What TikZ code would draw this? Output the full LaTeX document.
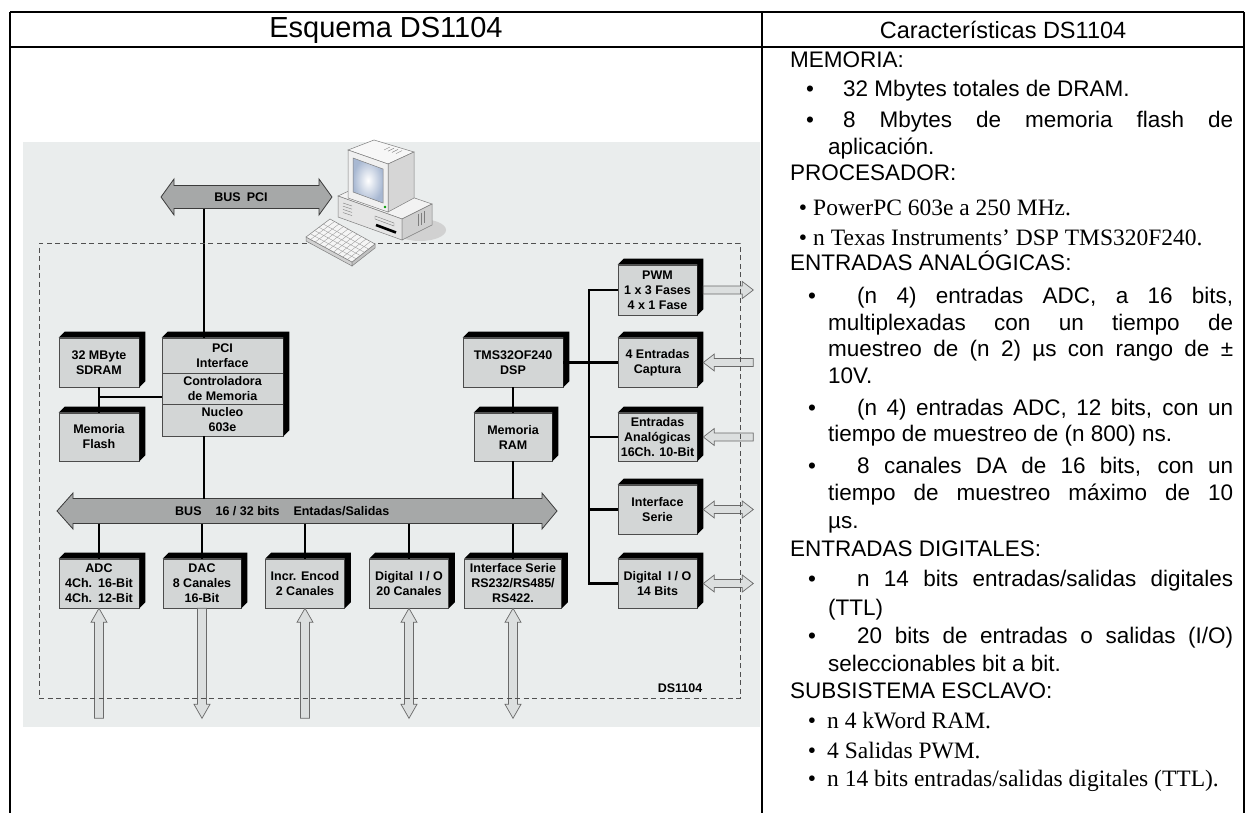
\documentclass[tikz,border=0pt]{standalone}
\usepackage{fontspec}
\setmainfont{Liberation Sans}
\newfontfamily\timesface{Liberation Serif}
\usetikzlibrary{calc}

\definecolor{panelgray}{HTML}{EAEDED}
\definecolor{facegray}{HTML}{D3D6D6}
\definecolor{busgray}{HTML}{A6A8A8}
\definecolor{busedge}{HTML}{3C3C3C}
\definecolor{iogray}{HTML}{DCDFDF}
\definecolor{ioedge}{HTML}{6A6A6A}
\definecolor{dashgray}{HTML}{505050}
\definecolor{pcline}{HTML}{7E7E7E}

\tikzset{
  blk/.style={draw=black!70, line width=0.6pt, fill=facegray, inner sep=0pt,
    align=center, font=\bfseries\fontsize{12.5}{15}\selectfont,
    minimum width=80pt, minimum height=49pt},
  wire/.style={line width=2.7pt, line join=miter},
  busarrow/.style={fill=busgray, draw=busedge, line width=0.8pt},
  iostyle/.style={fill=iogray, draw=ioedge, line width=0.7pt},
  lbl/.style={inner sep=0pt, font=\bfseries\fontsize{12.5}{15}\selectfont},
  rtext/.style={anchor=base west, inner sep=0pt, font=\fontsize{22.5}{27}\selectfont},
  stext/.style={anchor=base west, inner sep=0pt, font=\timesface\fontsize{23.5}{27}\selectfont},
  bul/.style={anchor=base, inner sep=0pt, font=\fontsize{22.5}{27}\selectfont},
  sbul/.style={anchor=base, inner sep=0pt, font=\timesface\fontsize{23.5}{27}\selectfont},
  pcface/.style={draw=pcline, line width=0.5pt},
  keyl/.style={draw=pcline!80, line width=0.35pt},
  % hollow I/O arrows
  ioR/.pic={\path[iostyle] (0,-4) -- (39,-4) -- (39,-8.5) -- (50,0) -- (39,8.5) -- (39,4) -- (0,4) -- cycle;},
  ioL/.pic={\path[iostyle] (0,0) -- (11,-8.5) -- (11,-4) -- (50,-4) -- (50,4) -- (11,4) -- (11,8.5) -- cycle;},
  ioLR/.pic={\path[iostyle] (0,0) -- (11,-8.5) -- (11,-4) -- (39,-4) -- (39,-8.5) -- (50,0) -- (39,8.5) -- (39,4) -- (11,4) -- (11,8.5) -- cycle;},
  ioUp/.pic={\path[iostyle] (0,0) -- (8,14) -- (4.5,14) -- (4.5,110) -- (-4.5,110) -- (-4.5,14) -- (-8,14) -- cycle;},
  ioDown/.pic={\path[iostyle] (0,110) -- (8,96) -- (4.5,96) -- (4.5,0) -- (-4.5,0) -- (-4.5,96) -- (-8,96) -- cycle;},
  ioUD/.pic={\path[iostyle] (0,0) -- (8,14) -- (4.5,14) -- (4.5,96) -- (8,96) -- (0,110) -- (-8,96) -- (-4.5,96) -- (-4.5,14) -- (-8,14) -- cycle;},
}

% black 3D depth on the top and right side of a block
\newcommand\blockdepth[2]{%
  \fill[black] (#1.north west) -- ++(6,-6) -- ($(#1.north east)+(6,-6)$)
    -- ($(#2.south east)+(6,-6)$) -- (#2.south east) -- (#1.north east) -- cycle;}

\begin{document}
\begin{tikzpicture}[x=1pt,y=-1pt]
\useasboundingbox (0,0) rectangle (1249,813);
\fill[white] (0,0) rectangle (1249,813);

% ---------- figure background ----------
\fill[panelgray] (23,142) rectangle (760,727);

% ---------- buses ----------
\path[busarrow] (161,197) -- (174,179) -- (174,185.5) -- (319,185.5) -- (319,179)
  -- (332,197) -- (319,215) -- (319,208.5) -- (174,208.5) -- (174,215) -- cycle;
\node[lbl] (pcibuslabel) at (241,197) {BUS\hspace{6pt}PCI};

\path[busarrow] (57,511) -- (73,493) -- (73,498.5) -- (542,498.5) -- (542,493)
  -- (557,511) -- (542,529) -- (542,523.5) -- (73,523.5) -- (73,529) -- cycle;
\node[lbl, anchor=west] (mainbuslabel) at (175,511) {BUS\hspace{14pt}16 / 32 bits\hspace{14pt}Entadas/Salidas};

\coordinate (pcitap) at (204,208.5);
\coordinate (bustop) at (0,498.5);
\coordinate (busbot) at (0,523.5);
\coordinate (trunk) at (589,0);
\coordinate (memjoin) at (99,397);

% ---------- blocks ----------
\node[blk] (sdram) at (99,362.5) {32 MByte\\SDRAM};
\node[blk, minimum height=48pt] (flash) at (99,437) {Memoria\\Flash};
\node[blk, minimum width=121pt, minimum height=35pt] (pcia) at (222.5,355.5) {PCI\\Interface};
\node[blk, minimum width=121pt, minimum height=31pt] (pcib) at (222.5,388.5) {Controladora\\de Memoria};
\node[blk, minimum width=121pt, minimum height=32pt] (pcic) at (222.5,420) {Nucleo\\603e};
\node[blk, minimum width=100pt] (tms) at (513,362.5) {TMS32OF240\\DSP};
\node[blk, minimum width=78pt, minimum height=48pt] (ram) at (513,437) {Memoria\\RAM};

\node[blk, minimum width=79pt, minimum height=50pt] (pwm) at (657.5,290) {PWM\\1 x 3 Fases\\4 x 1 Fase};
\node[blk, minimum width=79pt] (cap) at (657.5,362.5) {4 Entradas\\Captura};
\node[blk, minimum width=79pt, minimum height=48pt] (ana) at (657.5,437) {Entradas\\Analógicas\\16Ch. 10-Bit};
\node[blk, minimum width=79pt] (ser2) at (657.5,509.5) {Interface\\Serie};
\node[blk, minimum width=79pt] (dio2) at (657.5,583.5) {Digital\hspace{6pt}I / O\\14 Bits};

\node[blk] (adc) at (99,583.5) {ADC\\4Ch.\hspace{6pt}16-Bit\\4Ch.\hspace{6pt}12-Bit};
\node[blk, minimum width=78pt] (dac) at (202,583.5) {DAC\\8 Canales\\16-Bit};
\node[blk, minimum width=79pt] (enc) at (305,583.5) {Incr. Encod\\2 Canales};
\node[blk, minimum width=79pt] (dio) at (409,583.5) {Digital\hspace{6pt}I / O\\20 Canales};
\node[blk, minimum width=97pt] (rs) at (513,583.5) {Interface Serie\\RS232/RS485/\\RS422.};

\blockdepth{sdram}{sdram}
\blockdepth{flash}{flash}
\blockdepth{pcia}{pcic}
\blockdepth{tms}{tms}
\blockdepth{ram}{ram}
\blockdepth{pwm}{pwm}
\blockdepth{cap}{cap}
\blockdepth{ana}{ana}
\blockdepth{ser2}{ser2}
\blockdepth{dio2}{dio2}
\blockdepth{adc}{adc}
\blockdepth{dac}{dac}
\blockdepth{enc}{enc}
\blockdepth{dio}{dio}
\blockdepth{rs}{rs}

% ---------- connections ----------
\draw[wire] (pcitap) -- (pcitap |- pcia.north);
\draw[wire] (pcic.south -| pcitap) -- (bustop -| pcitap);
\draw[wire] (sdram.south) -- (flash.north);
\draw[wire] (memjoin) -- (memjoin -| pcib.west);
\draw[wire] (tms.south) -- (ram.north);
\draw[wire] (ram.south) -- (ram.south |- bustop);
\draw[wire] (tms.east) -- (cap.west);
\draw[wire] (pwm.west) -- (pwm.west -| trunk) -- (dio2.west -| trunk) -- (dio2.west);
\draw[wire] (ana.west -| trunk) -- (ana.west);
\draw[wire] (ser2.west -| trunk) -- (ser2.west);
\foreach \b in {adc,dac,enc,dio,rs}
  \draw[wire] (\b.north |- busbot) -- (\b.north);

% ---------- external I/O ----------
\pic at ($(pwm.east)+(6,0)$) {ioR};
\pic at ($(cap.east)+(6,0)$) {ioL};
\pic at ($(ana.east)+(6,0)$) {ioL};
\pic at ($(ser2.east)+(6,0)$) {ioLR};
\pic at ($(dio2.east)+(6,0)$) {ioLR};
\pic at (adc.south) {ioUp};
\pic at (dac.south) {ioDown};
\pic at (enc.south) {ioUp};
\pic at (dio.south) {ioUD};
\pic at (rs.south) {ioUD};

% ---------- board outline ----------
\node[draw=dashgray, line width=0.8pt, dash pattern=on 5pt off 3.5pt,
  minimum width=701pt, minimum height=455pt, inner sep=0pt] (board) at (389.5,470.5) {};
\node[lbl] (boardname) at (680,688) {DS1104};

% ---------- host computer ----------
\fill[black!18] (420,230) ellipse [x radius=26, y radius=11];
% case
\path[pcface, fill=black!5] (338,196) -- (368,182) -- (432,204) -- (402,219) -- cycle;
\path[pcface, fill=black!10] (338,196) -- (402,219) -- (402,240) -- (338,217) -- cycle;
\path[pcface, fill=black!19] (402,219) -- (432,204) -- (432,225) -- (402,240) -- cycle;
\foreach \i in {0,1,2,3} \draw[pcline, line width=0.4pt] (343,{203+3.2*\i}) -- (352,{206+3.2*\i});
\draw[pcline, line width=0.4pt] (375,216) -- (394,223) -- (394,226) -- (375,219) -- cycle;
\draw[black, line width=2.6pt] (376,225) -- (396,232.5);
\foreach \i in {0,1,2} \draw[pcline, line width=0.4pt] ({418+3*\i},{214-1.5*\i}) -- ({418+3*\i},{226-1.5*\i});
% monitor
\path[pcface, fill=black!3] (348,150) -- (374,140) -- (414,152) -- (388,164) -- cycle;
\path[pcface, fill=black!16] (388,164) -- (414,152) -- (414,198) -- (388,212) -- cycle;
\path[pcface, fill=black!6] (348,150) -- (388,164) -- (388,212) -- (348,198) -- cycle;
\shade[inner color=white, outer color={rgb,255:red,168;green,184;blue,210}]
  (353,158) -- (383,169) -- (383,203) -- (353,192) -- cycle;
\draw[pcline, line width=0.5pt] (353,158) -- (383,169) -- (383,203) -- (353,192) -- cycle;
\fill[green!60!black] (385,207) circle [radius=1.4];
\foreach \i in {0,1,2,3} \draw[pcline, line width=0.4pt] ({390+4*\i},{147+1.2*\i}) -- ({384+4*\i},{150+1.2*\i});
% keyboard
\coordinate (k1) at (306,237);
\coordinate (k2) at (330,219);
\coordinate (k3) at (375,244);
\coordinate (k4) at (352,262);
\path[pcface, fill=black!18] (k1) -- (k4) -- ($(k4)+(0,4)$) -- ($(k1)+(0,4)$) -- cycle;
\path[pcface, fill=black!24] (k4) -- (k3) -- ($(k3)+(0,4)$) -- ($(k4)+(0,4)$) -- cycle;
\path[pcface, fill=black!4] (k1) -- (k2) -- (k3) -- (k4) -- cycle;
\foreach \t in {0.18,0.36,0.54,0.72}
  \draw[keyl] ($(k1)!\t!(k2)$) -- ($(k4)!\t!(k3)$);
\foreach \t in {0.1,0.2,0.3,0.4,0.5,0.6,0.7,0.8,0.9}
  \draw[keyl] ($(k1)!\t!(k4)$) -- ($(k2)!\t!(k3)$);

% ---------- table ----------
\draw[line width=1.8pt] (10,12) -- (1244,12);
\draw[line width=1.8pt] (10,47) -- (1244,47);
\draw[line width=1.8pt] (10,12) -- (10,813);
\draw[line width=1.8pt] (762,12) -- (762,813);
\draw[line width=1.8pt] (1244,12) -- (1244,813);

\node[inner sep=0pt, font=\fontsize{29}{34}\selectfont] (lefthead) at (386,30) {Esquema DS1104};
\node[inner sep=0pt, font=\fontsize{23.5}{27}\selectfont] (righthead) at (1003,30) {Características DS1104};

% ---------- characteristics ----------
\node[rtext] (r1) at (790,68) {MEMORIA:};
\node[bul] (b2) at (810,97) {•};
\node[rtext] (r2) at (843,97) {32 Mbytes totales de DRAM.};
\node[bul] (b3) at (810,128) {•};
\node[rtext] (r3) at (843,128) {\makebox[390pt][s]{8 Mbytes de memoria flash de}};
\node[rtext] (r4) at (828,155) {aplicación.};
\node[rtext] (r5) at (790,181) {PROCESADOR:};
\node[sbul] (b6) at (803,215) {•};
\node[stext] (r6) at (813,215) {PowerPC 603e a 250 MHz.};
\node[sbul] (b7) at (803,245) {•};
\node[stext] (r7) at (813,245) {n Texas Instruments’ DSP TMS320F240.};
\node[rtext] (r8) at (790,270) {ENTRADAS ANALÓGICAS:};
\node[bul] (b9) at (812,303) {•};
\node[rtext] (r9) at (857,303) {\makebox[376pt][s]{(n 4) entradas ADC, a 16 bits,}};
\node[rtext] (r10) at (828,330) {\makebox[405pt][s]{multiplexadas con un tiempo de}};
\node[rtext] (r11) at (828,356) {\makebox[405pt][s]{muestreo de (n 2) µs con rango de ±}};
\node[rtext] (r12) at (828,383) {10V.};
\node[bul] (b13) at (812,415) {•};
\node[rtext] (r13) at (857,415) {\makebox[376pt][s]{(n 4) entradas ADC, 12 bits, con un}};
\node[rtext] (r14) at (828,441) {tiempo de muestreo de (n 800) ns.};
\node[bul] (b15) at (812,473) {•};
\node[rtext] (r15) at (857,473) {\makebox[376pt][s]{8 canales DA de 16 bits, con un}};
\node[rtext] (r16) at (828,500) {\makebox[405pt][s]{tiempo de muestreo máximo de 10}};
\node[rtext] (r17) at (828,528) {µs.};
\node[rtext] (r18) at (790,556) {ENTRADAS DIGITALES:};
\node[bul] (b19) at (812,586) {•};
\node[rtext] (r19) at (857,586) {\makebox[376pt][s]{n 14 bits entradas/salidas digitales}};
\node[rtext] (r20) at (828,615) {(TTL)};
\node[bul] (b21) at (812,643) {•};
\node[rtext] (r21) at (857,643) {\makebox[376pt][s]{20 bits de entradas o salidas (I/O)}};
\node[rtext] (r22) at (828,671) {seleccionables bit a bit.};
\node[rtext] (r23) at (790,698) {SUBSISTEMA ESCLAVO:};
\node[sbul] (b24) at (812,728) {•};
\node[stext] (r24) at (827,728) {n 4 kWord RAM.};
\node[sbul] (b25) at (812,758) {•};
\node[stext] (r25) at (827,758) {4 Salidas PWM.};
\node[sbul] (b26) at (812,786) {•};
\node[stext] (r26) at (827,786) {n 14 bits entradas/salidas digitales (TTL).};
\end{tikzpicture}
\end{document}
